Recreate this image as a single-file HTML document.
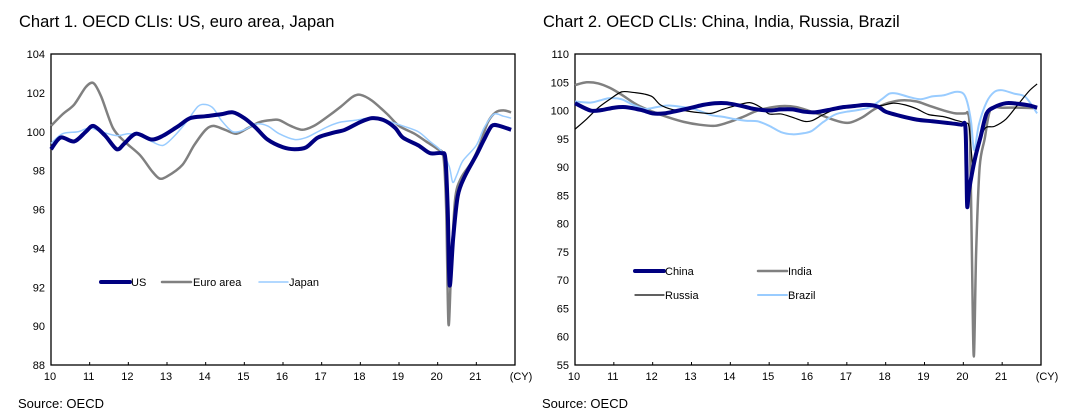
<!DOCTYPE html>
<html><head><meta charset="utf-8"><style>
body{margin:0;background:#fff;width:1068px;height:415px;overflow:hidden;font-family:"Liberation Sans",sans-serif}
text{font-family:"Liberation Sans",sans-serif}
</style></head><body>
<svg id="s" width="1068" height="415"></svg>
<script>
// Chart 1 data
const usX=[10.0,10.25,10.6,10.9,11.1,11.4,11.7,11.9,12.2,12.6,12.9,13.3,13.6,14.0,14.4,14.7,15.0,15.3,15.6,16.0,16.3,16.6,16.9,17.3,17.6,18.0,18.3,18.6,18.9,19.1,19.5,19.8,20.1,20.2,20.26,20.31,20.4,20.52,20.7,21.0,21.2,21.4,21.6,21.9];
const usY=[99.1,99.7,99.5,100.0,100.3,99.8,99.1,99.4,99.9,99.6,99.8,100.3,100.7,100.8,100.9,101.0,100.7,100.2,99.6,99.2,99.1,99.2,99.7,99.95,100.1,100.5,100.7,100.6,100.2,99.7,99.3,98.9,98.9,98.6,96.0,92.1,94.5,96.7,97.7,98.8,99.6,100.3,100.3,100.1];
const euX=[10.0,10.3,10.6,10.9,11.1,11.3,11.6,11.9,12.3,12.6,12.8,13.0,13.4,13.7,14.0,14.2,14.5,14.8,15.1,15.4,15.7,15.9,16.2,16.5,16.8,17.1,17.5,17.8,18.0,18.3,18.7,19.0,19.4,19.7,20.0,20.15,20.22,20.28,20.35,20.45,20.6,20.9,21.1,21.3,21.5,21.7,21.9];
const euY=[100.3,100.9,101.4,102.3,102.5,101.8,100.2,99.5,98.8,98.0,97.6,97.7,98.3,99.3,100.1,100.3,100.1,99.9,100.2,100.5,100.6,100.6,100.3,100.1,100.3,100.7,101.3,101.8,101.9,101.6,100.9,100.3,99.9,99.5,99.1,98.7,96.0,90.1,93.0,96.5,97.6,98.5,99.4,100.5,101.0,101.1,101.0];
const jpX=[10.0,10.3,10.7,11.0,11.3,11.7,12.0,12.3,12.6,12.9,13.2,13.5,13.8,14.0,14.2,14.4,14.7,15.0,15.3,15.6,15.9,16.3,16.6,16.9,17.2,17.5,17.9,18.2,18.5,18.8,19.1,19.5,19.8,20.1,20.3,20.39,20.5,20.65,21.0,21.2,21.45,21.7,21.9];
const jpY=[99.4,99.9,100.0,100.2,100.0,99.8,99.9,99.8,99.5,99.3,99.8,100.5,101.3,101.4,101.2,100.6,100.0,100.1,100.4,100.3,99.9,99.6,99.7,100.0,100.3,100.5,100.6,100.7,100.7,100.5,100.3,100.0,99.5,99.0,98.2,97.4,97.8,98.5,99.3,100.2,100.9,100.8,100.7];
const ticks1=[104,102,100,98,96,94,92,90,88];
// Chart 2 data
const cnX=[10.0,10.4,10.7,11.0,11.3,11.7,12.0,12.3,12.6,13.0,13.3,13.6,13.9,14.3,14.6,15.0,15.3,15.6,15.9,16.2,16.6,16.9,17.2,17.5,17.8,18.0,18.4,18.8,19.2,19.6,19.95,20.05,20.08,20.1,20.15,20.3,20.45,20.6,20.8,21.1,21.4,21.7,21.9];
const cnY=[101.3,100.0,100.1,100.5,100.6,100.1,99.5,99.5,99.9,100.5,101.0,101.3,101.3,100.8,100.3,100.0,100.2,100.2,99.8,99.7,100.2,100.6,100.8,101.0,100.7,99.8,99.0,98.4,98.1,97.8,97.5,97.3,90,83.0,86,91.5,95.5,99.5,100.6,101.3,101.2,100.9,100.5];
const inX=[10.0,10.3,10.6,10.9,11.2,11.6,12.0,12.4,12.8,13.2,13.6,13.9,14.3,14.7,15.1,15.4,15.7,16.0,16.3,16.6,16.9,17.1,17.4,17.7,18.0,18.4,18.8,19.1,19.5,19.8,20.05,20.12,20.17,20.22,20.27,20.33,20.42,20.55,20.7,21.0,21.5,21.9];
const inY=[104.5,105.0,104.8,104.0,102.8,101.0,99.8,98.8,98.0,97.5,97.3,97.8,98.8,100.0,100.6,100.8,100.6,100.0,99.3,98.5,97.9,97.9,98.8,100.2,101.2,101.8,101.6,100.9,100.0,99.5,99.5,99.5,96,75,56.5,75,90,95,100.2,100.5,100.5,100.4];
const ruX=[10.0,10.3,10.6,10.9,11.2,11.5,11.8,12.0,12.2,12.5,12.8,13.1,13.5,13.8,14.1,14.5,14.8,15.0,15.3,15.6,15.9,16.1,16.4,16.8,17.2,17.6,17.9,18.2,18.5,18.8,19.1,19.5,19.8,20.05,20.15,20.25,20.35,20.55,20.8,21.1,21.4,21.7,21.9];
const ruY=[96.7,98.5,100.5,102.0,103.3,103.2,102.9,102.4,101.0,100.2,100.0,99.7,99.5,100.2,100.8,101.4,100.5,99.4,99.4,98.8,98.1,98.2,99.3,100.5,100.8,100.8,100.9,101.3,101.0,100.3,99.3,98.9,98.3,97.8,97.0,90.0,93.0,96.8,97.2,98.5,101.0,103.5,104.7];
const brX=[10.0,10.4,10.7,10.9,11.2,11.5,11.8,12.1,12.4,12.8,13.1,13.5,13.8,14.1,14.4,14.7,15.0,15.3,15.6,15.9,16.1,16.4,16.7,17.0,17.3,17.6,17.9,18.1,18.3,18.6,18.9,19.2,19.5,19.8,20.0,20.1,20.2,20.28,20.4,20.6,20.8,21.0,21.3,21.6,21.9];
const brY=[101.6,101.4,101.9,102.2,102.0,101.0,100.3,100.6,100.9,100.6,100.2,99.2,98.9,98.5,98.2,98.1,97.3,96.2,95.8,96.0,96.4,98.0,99.3,99.8,100.1,100.6,102.0,103.0,103.0,102.4,102.0,102.5,102.7,103.3,103.0,101.5,98.0,93.0,97.5,101.5,103.3,103.6,103.0,102.4,99.5];
const ticks2=[110,105,100,95,90,85,80,75,70,65,60,55];
const years=[10,11,12,13,14,15,16,17,18,19,20,21];

const NS='http://www.w3.org/2000/svg',svg=document.getElementById('s');
function mk(tag,at,parent){const e=document.createElementNS(NS,tag);for(const k in at)e.setAttribute(k,at[k]);(parent||svg).appendChild(e);return e;}
function smooth(pts){let d='M'+pts[0][0]+','+pts[0][1];for(let i=0;i<pts.length-1;i++){const p0=pts[i-1]||pts[i],p1=pts[i],p2=pts[i+1],p3=pts[i+2]||p2;const t=0.15;d+=' C'+(p1[0]+(p2[0]-p0[0])*t)+','+(p1[1]+(p2[1]-p0[1])*t)+' '+(p2[0]-(p3[0]-p1[0])*t)+','+(p2[1]-(p3[1]-p1[1])*t)+' '+p2[0]+','+p2[1];}return d;}
function chart(c){
  const g=mk('g',{});
  
  
  const xs=v=>c.L+(v-10)*(c.R-c.L)/12, ys=v=>c.T+(c.ymax-v)*(c.B-c.T)/(c.ymax-c.ymin);
  const t=mk('text',{x:c.L-32,y:27,'font-size':16.5,fill:'#000'},g);t.textContent=c.title;
  
  
  const f=mk('rect',{x:c.L,y:c.T,width:c.R-c.L,height:c.B-c.T,fill:'none',stroke:'#000','stroke-width':1.3},g);
  
  
  c.ticks.forEach(v=>{const e=mk('text',{x:c.L-6,y:ys(v)+4,'font-size':11,'text-anchor':'end'},g);e.textContent=v;
    
    });
  years.forEach(v=>{const e=mk('text',{x:xs(v)-1,y:c.B+15,'font-size':11,'text-anchor':'middle'},g);e.textContent=v;
    
    
    mk('line',{x1:xs(v),x2:xs(v),y1:c.B,y2:c.B-3,stroke:'#000'},g);});
  const cy=mk('text',{x:c.R+6,y:c.B+15,'font-size':11,'text-anchor':'middle'},g);cy.textContent='(CY)';
  
  
  const so=mk('text',{x:c.L-33,y:408,'font-size':13},g);so.textContent='Source: OECD';
  
  
  c.series.forEach(s=>{
    const p=mk('path',{d:smooth(s.x.map((v,i)=>[xs(v),ys(s.y[i])])),fill:'none',stroke:s.col,'stroke-width':s.w,'stroke-linejoin':'round'},g);
    
    
    const l=mk('line',{x1:s.lx,x2:s.lx+29,y1:s.ly,y2:s.ly,stroke:s.col,'stroke-width':s.w,'stroke-linecap':'round'},g);
    
    
    const lt=mk('text',{x:s.lx+s.tx,y:s.ly+4,'font-size':11},g);lt.textContent=s.label;
    
    
  });
}
chart({name:'chart-1',title:'Chart 1. OECD CLIs: US, euro area, Japan',L:51,R:515,T:54,B:365,ymin:88,ymax:104,ticks:ticks1,series:[
 {label:'Euro area',x:euX,y:euY,col:'#808080',w:2.5,lx:162,ly:282,tx:31},
 {label:'Japan',x:jpX,y:jpY,col:'#99ccff',w:1.5,lx:259,ly:282,tx:30},
 {label:'US',x:usX,y:usY,col:'#000080',w:4,lx:101,ly:282,tx:30}]});
chart({name:'chart-2',title:'Chart 2. OECD CLIs: China, India, Russia, Brazil',L:575,R:1041,T:54,B:365,ymin:55,ymax:110,ticks:ticks2,series:[
 {label:'India',x:inX,y:inY,col:'#808080',w:2.5,lx:758,ly:271,tx:30},
 {label:'Brazil',x:brX,y:brY,col:'#99ccff',w:2,lx:758,ly:295,tx:30},
 {label:'Russia',x:ruX,y:ruY,col:'#000',w:1.2,lx:635,ly:295,tx:30},
 {label:'China',x:cnX,y:cnY,col:'#000080',w:4,lx:635,ly:271,tx:30}]});
</script>
</body></html>
